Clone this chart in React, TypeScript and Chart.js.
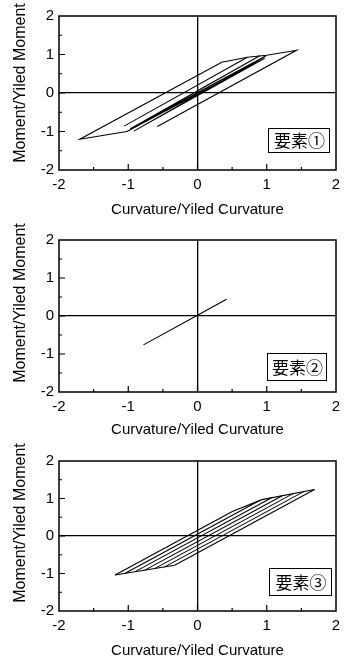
import React, { useEffect, useRef } from "react";
import { Chart, registerables } from "chart.js";

Chart.register(...registerables);

type Pt = [number, number];

// ---- axes / text ----
const xTickValues = [-2, -1, 0, 1, 2];
const yTickValues = [-2, -1, 0, 1, 2];
const minorTickValues = [-1.5, -0.5, 0.5, 1.5];
const xAxisTitle = "Curvature/Yiled Curvature";
const yAxisTitle = "Moment/Yiled Moment";
const panelNames = ["要素①", "要素②", "要素③"];

// ---- panel 1 (要素①) ----
const p1Band: Pt[] = [
  [0, 0.06], [0.9, 0.97], [-0.97, -0.93], [0.99, 0.97], [-0.92, -0.99], [0.97, 0.9], [-1.02, -1.0],
];
const p1Outer: Pt[] = [
  [-1.02, -1.0], [-1.7, -1.2], [0.35, 0.8], [0.72, 0.93], [1.0, 0.98], [1.43, 1.11], [-0.58, -0.87],
];
const p1Reload: Pt[] = [[-1.06, -0.86], [0.72, 0.93]];

// ---- panel 2 (要素②) ----
const p2Line: Pt[] = [[-0.78, -0.76], [0, 0.02], [0.42, 0.44]];

// ---- panel 3 (要素③) ----
const p3UpperBackbone: Pt[] = [[0.51, 0.66], [0.93, 0.97], [1.69, 1.24]];
const p3LowerBackbone: Pt[] = [[-1.19, -1.04], [-0.33, -0.78]];
const p3Branch1: Pt[] = [[-1.19, -1.04], [0.51, 0.66]];
const p3Branch2: Pt[] = [[-1.05, -1.0], [0.89, 0.94]];
const p3Branch3: Pt[] = [[-0.9, -0.95], [1.07, 1.02]];
const p3Branch4: Pt[] = [[-0.76, -0.91], [1.23, 1.08]];
const p3Branch5: Pt[] = [[-0.62, -0.87], [1.38, 1.13]];
const p3Branch6: Pt[] = [[-0.48, -0.83], [1.54, 1.19]];
const p3Branch7: Pt[] = [[-0.33, -0.78], [1.69, 1.24]];

const LATIN = "'Liberation Sans', Arial, sans-serif";
const CJK = "'Noto Sans CJK JP', 'Noto Sans CJK SC', sans-serif";

type PanelCfg = {
  name: string;
  series: Pt[][];
  top: number;
  height: number;
  padTop: number;
  xAxisHeight: number;
  titlePadBottom: number;
  box: { right: number; bottom: number; w: number; h: number };
};

const panels: PanelCfg[] = [
  {
    name: panelNames[0],
    series: [p1Band, p1Outer, p1Reload],
    top: 0, height: 220, padTop: 16, xAxisHeight: 50, titlePadBottom: 1,
    box: { right: 7, bottom: 18, w: 61, h: 24 },
  },
  {
    name: panelNames[1],
    series: [p2Line],
    top: 220, height: 220, padTop: 20, xAxisHeight: 48, titlePadBottom: 1,
    box: { right: 10, bottom: 12, w: 59, h: 27 },
  },
  {
    name: panelNames[2],
    series: [
      p3UpperBackbone, p3LowerBackbone, p3Branch1, p3Branch2, p3Branch3,
      p3Branch4, p3Branch5, p3Branch6, p3Branch7,
    ],
    top: 440, height: 222, padTop: 21, xAxisHeight: 51, titlePadBottom: 2,
    box: { right: 5, bottom: 16, w: 62, h: 27 },
  },
];

const decorPlugin = {
  id: "panelDecor",
  afterDraw(chart: any, _args: any, opts: any) {
    const { ctx, chartArea: a, scales } = chart;
    const xs = scales.x;
    const ys = scales.y;
    ctx.save();
    ctx.strokeStyle = "#000";
    ctx.lineWidth = 1.5;
    ctx.strokeRect(a.left, a.top, a.right - a.left, a.bottom - a.top);

    // inner tick marks on left and bottom axes
    ctx.lineWidth = 1.2;
    ctx.beginPath();
    for (const v of xTickValues) {
      if (v === xs.min || v === xs.max) continue;
      const px = xs.getPixelForValue(v);
      ctx.moveTo(px, a.bottom);
      ctx.lineTo(px, a.bottom - 6);
    }
    for (const v of minorTickValues) {
      const px = xs.getPixelForValue(v);
      ctx.moveTo(px, a.bottom);
      ctx.lineTo(px, a.bottom - 3);
    }
    for (const v of yTickValues) {
      if (v === ys.min || v === ys.max) continue;
      const py = ys.getPixelForValue(v);
      ctx.moveTo(a.left, py);
      ctx.lineTo(a.left + 6, py);
    }
    for (const v of minorTickValues) {
      const py = ys.getPixelForValue(v);
      ctx.moveTo(a.left, py);
      ctx.lineTo(a.left + 3, py);
    }
    ctx.stroke();

    // y axis title
    ctx.save();
    ctx.translate(21, 83);
    ctx.rotate(-Math.PI / 2);
    ctx.fillStyle = "#000";
    ctx.font = `16px ${LATIN}`;
    ctx.textAlign = "center";
    ctx.textBaseline = "middle";
    ctx.fillText(yAxisTitle, 0, 0);
    ctx.restore();

    // element label box
    const b = opts.box;
    const bx = a.right - b.right - b.w;
    const by = a.bottom - b.bottom - b.h;
    ctx.fillStyle = "#fff";
    ctx.fillRect(bx, by, b.w, b.h);
    ctx.lineWidth = 1;
    ctx.strokeRect(bx + 0.5, by + 0.5, b.w, b.h);
    ctx.fillStyle = "#000";
    ctx.font = `17px ${CJK}`;
    ctx.textAlign = "center";
    ctx.textBaseline = "middle";
    ctx.fillText(opts.name, bx + b.w / 2 + 1, by + b.h / 2 + 1);
    ctx.restore();
  },
};

function Panel({ cfg }: { cfg: PanelCfg }) {
  const ref = useRef<HTMLCanvasElement | null>(null);
  useEffect(() => {
    if (!ref.current) return;
    const chart = new Chart(ref.current, {
      type: "scatter",
      data: {
        datasets: cfg.series.map((s) => ({
          data: s.map(([x, y]) => ({ x, y })),
          showLine: true,
          borderColor: "#000",
          borderWidth: 1.1,
          pointRadius: 0,
          pointHoverRadius: 0,
          fill: false,
          tension: 0,
        })),
      },
      options: {
        responsive: false,
        animation: false,
        devicePixelRatio: 1,
        events: [],
        layout: { padding: { top: cfg.padTop, right: 11, left: 0, bottom: 0 } },
        plugins: {
          legend: { display: false },
          tooltip: { enabled: false },
          panelDecor: { box: cfg.box, name: cfg.name },
        } as any,
        scales: {
          x: {
            type: "linear",
            min: -2,
            max: 2,
            afterBuildTicks: (s: any) => {
              s.ticks = xTickValues.map((v) => ({ value: v }));
            },
            afterFit: (s: any) => {
              s.height = cfg.xAxisHeight;
            },
            grid: {
              drawTicks: false,
              color: (c: any) => (c.tick && c.tick.value === 0 ? "#000" : "rgba(0,0,0,0)"),
              lineWidth: 1.3,
            },
            border: { display: false },
            ticks: {
              padding: 6,
              color: "#000",
              font: { family: LATIN, size: 15 },
              maxRotation: 0,
              autoSkip: false,
            },
            title: {
              display: true,
              text: xAxisTitle,
              color: "#000",
              font: { family: LATIN, size: 15 },
              padding: { top: 0, bottom: cfg.titlePadBottom },
            },
          },
          y: {
            type: "linear",
            min: -2,
            max: 2,
            afterBuildTicks: (s: any) => {
              s.ticks = yTickValues.map((v) => ({ value: v }));
            },
            afterFit: (s: any) => {
              s.width = 59;
            },
            grid: {
              drawTicks: false,
              color: (c: any) => (c.tick && c.tick.value === 0 ? "#000" : "rgba(0,0,0,0)"),
              lineWidth: 1.3,
            },
            border: { display: false },
            ticks: {
              padding: 5,
              color: "#000",
              font: { family: LATIN, size: 15 },
              autoSkip: false,
            },
            title: { display: false },
          },
        },
      } as any,
      plugins: [decorPlugin],
    });
    return () => chart.destroy();
  }, [cfg]);
  return (
    <div style={{ position: "absolute", left: 0, top: cfg.top, width: 347, height: cfg.height }}>
      <canvas ref={ref} width={347} height={cfg.height} style={{ display: "block" }} />
    </div>
  );
}

export default function App() {
  return (
    <div style={{ position: "absolute", left: 0, top: 0, width: 347, height: 662, background: "#fff" }}>
      {panels.map((p) => (
        <Panel key={p.name} cfg={p} />
      ))}
    </div>
  );
}
